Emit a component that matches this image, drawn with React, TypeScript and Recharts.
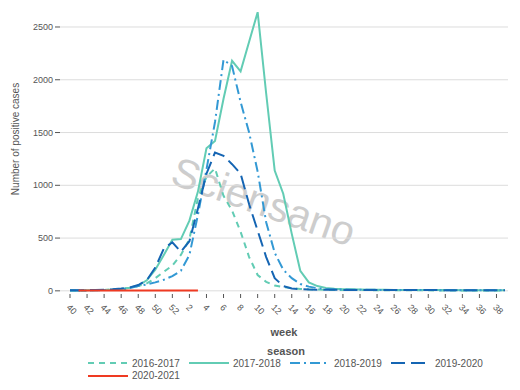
import React from "react";
import { LineChart, Line, XAxis, YAxis, CartesianGrid } from "recharts";

// weeks 40-52 of the first year, then 1-39 of the next
const WEEKS = [
  40, 41, 42, 43, 44, 45, 46, 47, 48, 49, 50, 51, 52,
  1, 2, 3, 4, 5, 6, 7, 8, 9, 10, 11, 12, 13, 14, 15, 16, 17, 18, 19, 20,
  21, 22, 23, 24, 25, 26, 27, 28, 29, 30, 31, 32, 33, 34, 35, 36, 37, 38, 39,
];

const S2016 = [
  2, 3, 4, 6, 8, 12, 18, 28, 45, 70, 120, 180, 240,
  340, 490, 880, 1080, 1160, 900, 760, 560, 320, 150, 85, 50, 35, 25, 18, 14, 12, 10, 9, 8,
  8, 7, 7, 6, 6, 6, 5, 5, 5, 5, 4, 4, 4, 4, 4, 3, 3, 3, 3,
];
const S2017 = [
  3, 4, 5, 7, 9, 12, 18, 30, 50, 100, 200, 340, 485,
  490, 665, 940, 1350, 1420, 1820, 2180, 2080, 2360, 2640, 1870, 1140, 920, 540, 190, 80, 45, 28, 20, 16,
  14, 12, 11, 10, 10, 9, 9, 8, 8, 8, 7, 7, 7, 6, 6, 6, 5, 5, 5,
];
const S2018 = [
  2, 3, 4, 5, 7, 10, 15, 25, 45, 60, 80, 105, 140,
  190, 340, 720, 1150, 1600, 2190, 2130, 1790, 1500, 1130, 650, 360, 200, 120, 65, 40, 25, 18, 14, 12,
  11, 10, 10, 9, 9, 8, 8, 8, 7, 7, 7, 6, 6, 6, 5, 5, 5, 5, 4,
];
const S2019 = [
  5, 6, 7, 8, 10, 14, 22, 32, 55, 100, 220, 400, 460,
  370, 470, 780, 1110, 1310, 1280, 1200, 1110, 820, 570, 320, 120, 45, 22, 15, 12, 11, 10, 10, 9,
  9, 9, 8, 8, 8, 8, 7, 7, 7, 7, 7, 6, 6, 6, 6, 6, 6, 6, 6,
];
const S2020 = [
  null, 2, 3, 2, 3, 3, 3, 4, 3, 4, 3, 4, 3,
  3, 4, 3, null, null, null, null, null, null, null, null, null, null, null, null, null, null, null, null, null,
  null, null, null, null, null, null, null, null, null, null, null, null, null, null, null, null, null, null, null,
];

const SERIES = [
  { key: "s2016", name: "2016-2017", values: S2016, color: "#62ccb4", dash: "6 5" },
  { key: "s2017", name: "2017-2018", values: S2017, color: "#62ccb4", dash: undefined },
  { key: "s2018", name: "2018-2019", values: S2018, color: "#3399d4", dash: "10 4 2 4" },
  { key: "s2019", name: "2019-2020", values: S2019, color: "#1565b3", dash: "14 6" },
  { key: "s2020", name: "2020-2021", values: S2020, color: "#ef3a22", dash: undefined },
];

const Y_TICKS = [0, 500, 1000, 1500, 2000, 2500];
const Y_DOMAIN = [-30, 2680];

const data = WEEKS.map((w, i) => {
  const row: Record<string, any> = { week: String(w) };
  SERIES.forEach((s) => {
    row[s.key] = s.values[i];
  });
  return row;
});

const FONT = "'Liberation Sans', Arial, sans-serif";
const TEXT = "#555";

function WeekTick(props: any) {
  const { x, y, payload } = props;
  const ax = x - 4;
  const ay = y + 8;
  return (
    <text x={ax} y={ay} transform={`rotate(45 ${ax} ${ay})`} fontSize={9} fill={TEXT} textAnchor="start">
      {payload.value}
    </text>
  );
}

// horizontal grid only at the labelled ticks, not at the domain edges
const gridRows = (props: any) => {
  const off = props?.offset;
  if (!off) return [];
  const [lo, hi] = Y_DOMAIN;
  return Y_TICKS.map((t) => off.top + ((hi - t) / (hi - lo)) * off.height);
};

function SeasonLegend() {
  return (
    <div style={{ position: "absolute", left: 0, top: 345, width: 520, fontFamily: FONT, color: TEXT }}>
      <div style={{ textAlign: "center", fontSize: 11, fontWeight: "bold", paddingLeft: 52, height: 12 }}>season</div>
      <div style={{ display: "flex", flexWrap: "wrap", marginLeft: 88, width: 410 }}>
        {SERIES.map((s) => (
          <div key={s.key} style={{ display: "flex", alignItems: "center", width: 101, height: 12.5, fontSize: 10 }}>
            <svg width={42} height={6} style={{ marginRight: 2 }}>
              <line x1={0} y1={3} x2={40} y2={3} stroke={s.color} strokeWidth={2} strokeDasharray={s.dash} />
            </svg>
            <span>{s.name}</span>
          </div>
        ))}
      </div>
    </div>
  );
}

export default function App() {
  return (
    <div style={{ position: "absolute", left: 0, top: 0, width: 520, height: 390, background: "#fff", fontFamily: FONT }}>
      <svg width={520} height={390} style={{ position: "absolute", left: 0, top: 0 }} fontFamily={FONT}>
        <text x={259} y={215} transform="rotate(19.5 259 215)" textAnchor="middle" fontSize={41} fill="#cdcdcd">
          Sciensano
        </text>
        <text x={19} y={139} transform="rotate(-90 19 139)" textAnchor="middle" fontSize={10} fill={TEXT}>
          Number of positive cases
        </text>
        <text x={284} y={336} textAnchor="middle" fontSize={11} fontWeight="bold" fill={TEXT}>
          week
        </text>
      </svg>
      <div style={{ position: "absolute", left: 0, top: 0 }}>
        <LineChart width={520} height={390} data={data} margin={{ top: 8, right: 12, bottom: 50, left: 0 }}>
          <CartesianGrid vertical={false} stroke="#dcdcdc" horizontalCoordinatesGenerator={gridRows} />
          <XAxis
            dataKey="week"
            interval={1}
            padding={{ left: 10, right: 3 }}
            height={46}
            axisLine={false}
            tickLine={{ stroke: "#555" }}
            tickSize={4}
            tickMargin={2}
            tick={<WeekTick />}
          />
          <YAxis
            width={60}
            domain={Y_DOMAIN}
            ticks={Y_TICKS}
            axisLine={false}
            tickLine={{ stroke: "#555" }}
            tickSize={5}
            tickMargin={2}
            tick={{ fontSize: 9, fill: TEXT }}
          />
          {SERIES.map((s) => (
            <Line
              key={s.key}
              dataKey={s.key}
              name={s.name}
              type="linear"
              stroke={s.color}
              strokeWidth={2}
              strokeDasharray={s.dash}
              dot={false}
              activeDot={false}
              isAnimationActive={false}
            />
          ))}
        </LineChart>
      </div>
      <SeasonLegend />
    </div>
  );
}
